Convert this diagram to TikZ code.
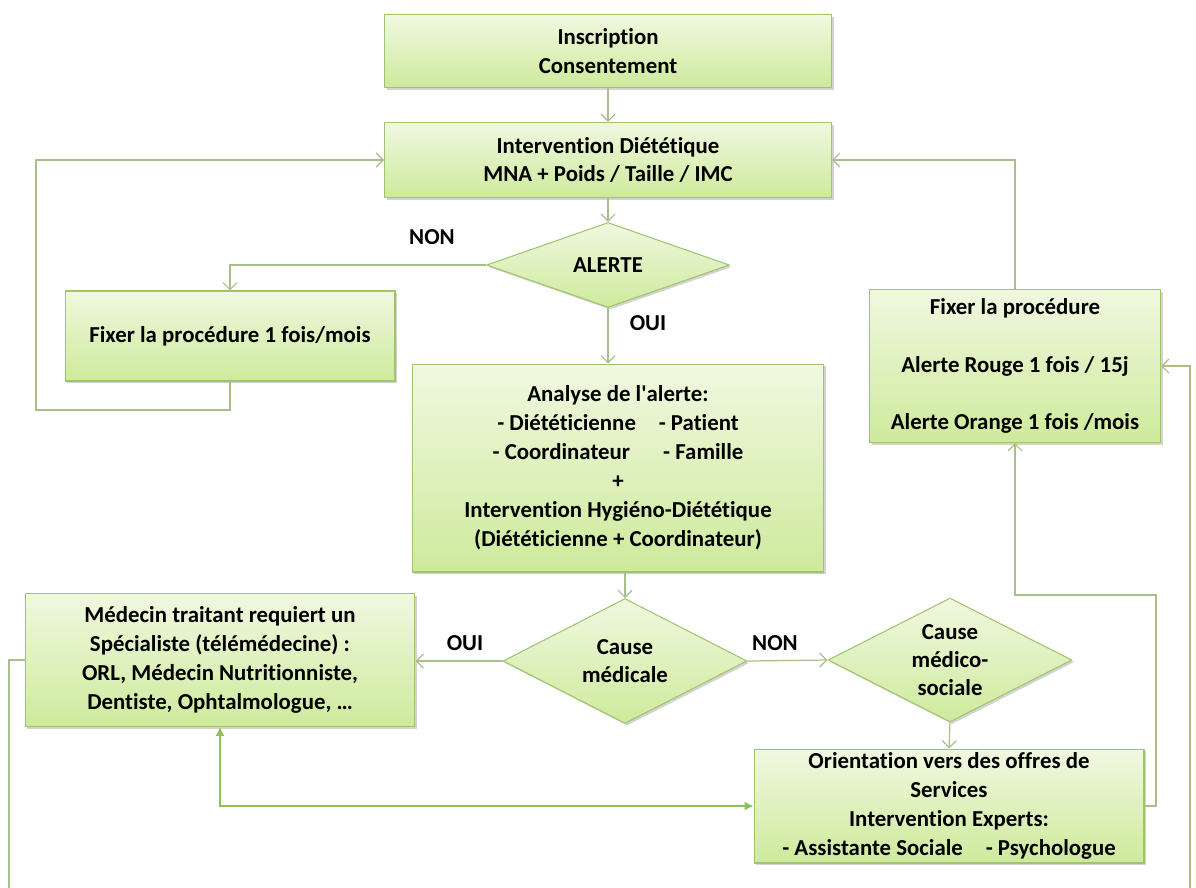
\documentclass[tikz,border=0pt]{standalone}
\usepackage{fontspec}
\setmainfont{Carlito}[RawFeature={-liga;-clig;-calt;-dlig}]
\usetikzlibrary{shapes.geometric,shadows,arrows.meta}
\definecolor{boxtop}{RGB}{240,248,224}
\definecolor{boxbot}{RGB}{206,234,156}
\definecolor{boxline}{RGB}{160,196,110}
\definecolor{linkcol}{RGB}{170,190,140}
\definecolor{dualcol}{RGB}{140,192,90}
\tikzset{
  stepbox/.style={rectangle, draw=boxline, line width=0.6pt, top color=boxtop, bottom color=boxbot,
    drop shadow={shadow xshift=1.2pt, shadow yshift=-1.2pt, opacity=0.35},
    align=center, font=\fontsize{13}{16.5}\selectfont\bfseries, inner sep=2pt},
  choice/.style={diamond, draw=boxline, line width=0.6pt, top color=boxtop, bottom color=boxbot,
    drop shadow={shadow xshift=1.2pt, shadow yshift=-1.2pt, opacity=0.35},
    align=center, font=\fontsize{13}{16}\selectfont\bfseries, shape aspect=2, inner sep=-4pt},
  answer/.style={font=\fontsize{13}{16}\selectfont\bfseries},
  link/.style={draw=linkcol, line width=0.7pt, -{Straight Barb[length=4pt,width=8pt]}},
}
\begin{document}
\begin{tikzpicture}[x=0.02cm,y=-0.02cm]
\useasboundingbox (0,0) rectangle (1196,887);
\node (n-insc) at (608,51) [stepbox, minimum width=8.94cm, minimum height=1.46cm] {Inscription\\Consentement};
\node (n-diet) at (608,160) [stepbox, minimum width=8.94cm, minimum height=1.5cm] {Intervention Diététique\\MNA + Poids / Taille / IMC};
\node (n-alerte) at (608,265) [choice, minimum width=4.86cm, minimum height=1.7cm] {ALERTE};
\node (n-fix1) at (230,336) [stepbox, minimum width=6.6cm, minimum height=1.8cm] {Fixer la procédure 1 fois/mois};
\node (n-analyse) at (618,468) [stepbox, minimum width=8.24cm, minimum height=4.16cm] {Analyse de l\textquotesingle alerte:\\- Diététicienne\quad - Patient\\- Coordinateur\quad\ \ - Famille\\+\\Intervention Hygiéno-Diététique\\(Diététicienne + Coordinateur)};
\node (n-fix2) at (1015,366) [stepbox, minimum width=5.82cm, minimum height=3.06cm] {Fixer la procédure\\[16pt]Alerte Rouge 1 fois / 15j\\[16pt]Alerte Orange 1 fois /mois};
\node (n-cmed) at (625,661) [choice, minimum width=4.88cm, minimum height=2.5cm] {Cause\\médicale};
\node (n-med) at (220,660) [stepbox, minimum width=7.8cm, minimum height=2.66cm] {Médecin traitant requiert un\\Spécialiste (télémédecine) :\\ORL, Médecin Nutritionniste,\\Dentiste, Ophtalmologue, \dots};
\node (n-csoc) at (950,660) [choice, minimum width=4.88cm, minimum height=2.48cm] {Cause\\médico-\\sociale};
\node (n-orient) at (949,806) [stepbox, minimum width=7.8cm, minimum height=2.28cm] {Orientation vers des offres de\\Services\\Intervention Experts:\\- Assistante Sociale\quad - Psychologue};
\node (l-non1) at (432,237) [answer] {NON};
\node (l-oui1) at (648,323) [answer] {OUI};
\node (l-oui2) at (465,643) [answer] {OUI};
\node (l-non2) at (775,643) [answer] {NON};
\draw[link] (n-insc) -- (n-diet);
\draw[link] (n-diet) -- (n-alerte);
\draw[link] (n-alerte.west) -| (n-fix1.north);
\draw[link] (n-alerte.south) -- (n-alerte.south |- n-analyse.north);
\draw[link] (n-fix1.south) |- (36,410) |- (n-diet.west);
\draw[link] (n-fix2.north) |- (n-diet.east);
\draw[link] (n-cmed.north |- n-analyse.south) -- (n-cmed.north);
\draw[link] (n-cmed.west) -- (n-med.east |- n-cmed.west);
\draw[link] (n-cmed.east) -- (n-csoc.west);
\draw[link] (n-csoc.south) -- (n-orient.north);
\draw[draw=dualcol, line width=0.8pt, {Latex[length=5pt,width=5pt]}-{Latex[length=5pt,width=5pt]}] (n-med.south) |- (n-orient.west);
\draw[link] (n-orient.east) -| (1156,595) -| (n-fix2.south);
\draw[link] (n-med.west) -| (9,900) -- (1190,900) |- (n-fix2.east);
\end{tikzpicture}
\end{document}
